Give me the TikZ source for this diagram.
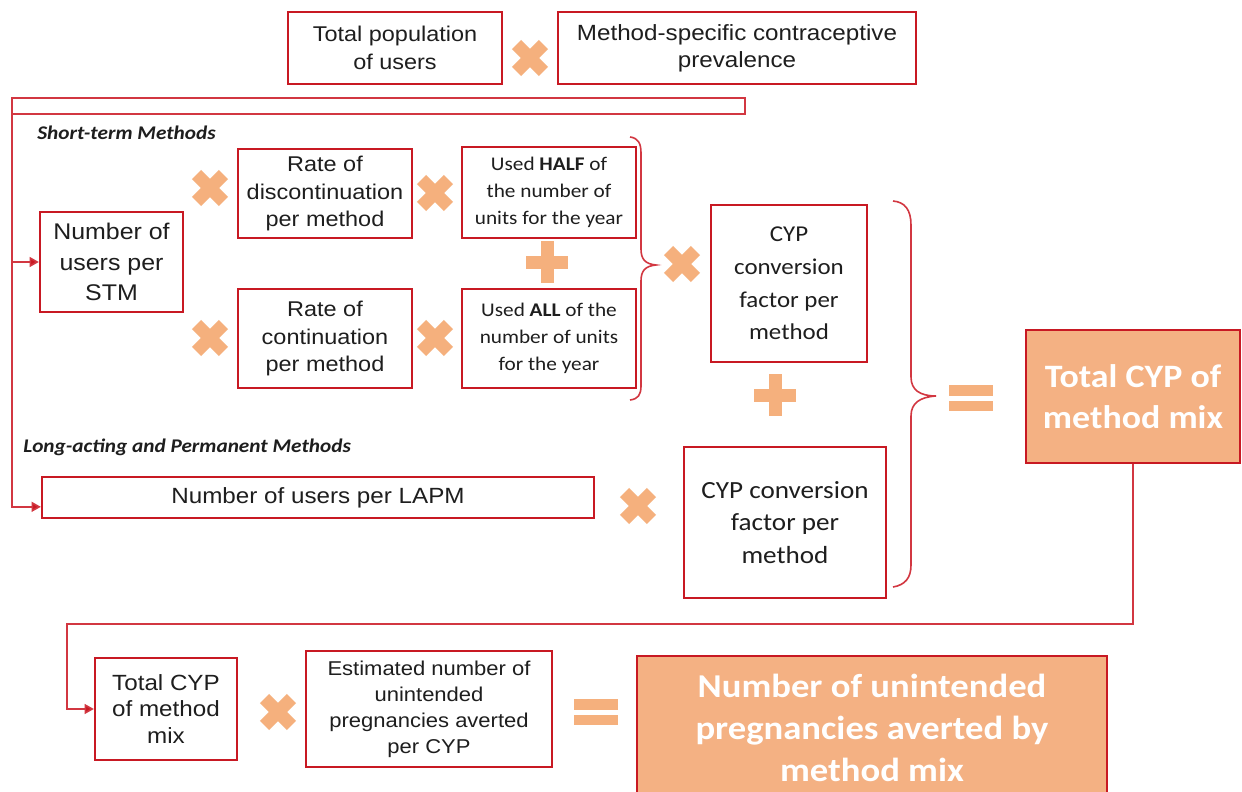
\documentclass[tikz,border=0pt]{standalone}
\usepackage{fontspec}
\setmainfont[FakeStretch=1.1]{Liberation Sans}
\newfontfamily\calfont[FakeStretch=1.1]{Carlito}
\usetikzlibrary{arrows.meta}
\definecolor{bred}{RGB}{200,25,35}
\definecolor{lred}{RGB}{210,55,65}
\definecolor{orng}{RGB}{244,177,131}
\definecolor{opc}{RGB}{245,176,125}
\definecolor{txt}{RGB}{30,30,30}
\begin{document}
\begin{tikzpicture}[x=0.75pt,y=-0.75pt,
  box/.style={draw=bred, line width=1.7pt, fill=white, inner sep=0pt, align=center, text=txt},
  hot/.style={draw=bred, line width=1.7pt, fill=orng, inner sep=0pt, align=center, text=white},
  sz/.style 2 args={minimum width=#1*0.75pt, minimum height=#2*0.75pt},
  ar/.style={font=\fontsize{16}{20.5}\selectfont},
  cb/.style={font=\calfont\fontsize{14.5}{20}\selectfont},
  cy/.style={font=\calfont\fontsize{17}{24.5}\selectfont},
  big/.style={font=\calfont\bfseries\fontsize{24.5}{30.5}\selectfont},
  lab/.style={anchor=west, text=txt, inner sep=0pt, font=\calfont\bfseries\itshape\fontsize{14.5}{16}\selectfont},
  conn/.style={draw=lred, line width=1.2pt},
  tip/.style={-{Triangle[length=7pt,width=7.5pt,fill=bred]}},
  brace/.style={draw=lred, line width=1.2pt},
  opx/.pic={\fill[opc,rotate=45] (-19,-6.5) rectangle (19,6.5);
            \fill[opc,rotate=-45] (-19,-6.5) rectangle (19,6.5);},
  opp/.pic={\fill[opc] (-21,-6.5) rectangle (21,6.5);
            \fill[opc] (-6.5,-21) rectangle (6.5,21);},
  ope/.pic={\fill[opc] (-22,-13) rectangle (22,-2.5);
            \fill[opc] (-22,2.5) rectangle (22,13);}
]
\useasboundingbox (0,0) rectangle (1242,792);
\clip (0,0) rectangle (1242,792);
\fill[white] (0,0) rectangle (1242,792);

% top row
\node[box, ar, sz={214}{72}] (pop) at (395,48) {Total population\\of users};
\node[box, ar, font=\fontsize{16.5}{20.5}\selectfont, sz={358}{72}] (prev) at (737,48) {Method-specific contraceptive\\prevalence};
\pic at (530,58) {opx};

% bar connector
\coordinate (barTL) at (12,98);
\coordinate (barBR) at (745,114);
\coordinate (barBL) at (12,114);
\draw[conn] (barTL) rectangle (barBR);

% labels
\node[lab] (stl) at (37,133) {Short-term Methods};
\node[lab] (lpl) at (23,447) {Long-acting and Permanent Methods};

% short-term boxes
\node[box, font=\fontsize{17}{23}\selectfont, sz={143}{100}] (stm) at (111.5,262) {Number of\\users per\\STM};
\node[box, ar, sz={174}{89}] (disc) at (325,193.5) {Rate of\\discontinuation\\per method};
\node[box, ar, sz={174}{99}] (cont) at (325,338.5) {Rate of\\continuation\\per method};
\node[box, cb, sz={174}{91}] (half) at (549,192.5) {Used \textbf{HALF} of\\the number of\\units for the year};
\node[box, cb, sz={174}{99}] (all) at (549,338.5) {Used \textbf{ALL} of the\\number of units\\for the year};
\node[box, cy, sz={156}{157}] (cyp1) at (789,283.5) {CYP\\conversion\\factor per\\method};

\pic at (210,188) {opx};
\pic at (210,338) {opx};
\pic at (435,193) {opx};
\pic at (435,338) {opx};
\pic at (547,262) {opp};
\pic at (682,264) {opx};
\pic at (775,395) {opp};

% brace 1
\draw[brace] (630,137) .. controls (638,138) and (641,143) .. (641,153)
  -- (641,249) .. controls (641,259) and (645,264) .. (656,265)
  .. controls (645,266) and (641,271) .. (641,281)
  -- (641,386) .. controls (641,395) and (638,399) .. (630,400);

% LAPM
\node[box, font=\fontsize{16.5}{20}\selectfont, sz={552}{41}] (lapm) at (318,497.5) {Number of users per LAPM};
\node[box, font=\calfont\fontsize{18.5}{24.5}\selectfont, sz={202}{151}] (cyp2) at (785,522.5) {CYP conversion\\factor per\\method};
\pic at (638,506) {opx};

% brace 2
\draw[brace] (893,201) .. controls (905,202) and (911,210) .. (911,225)
  -- (911,377) .. controls (911,390) and (920,396) .. (936,396)
  .. controls (920,397) and (911,403) .. (911,416)
  -- (911,565) .. controls (911,578) and (905,585) .. (893,587);

\pic at (971,398) {ope};

\node[hot, big, sz={214}{133}] (tcyp) at (1133,396.5) {Total CYP of\\method mix};

% left connector
\coordinate (j1) at (12,262);
\draw[conn, tip] (barBL) |- ([yshift=-7pt]lapm.west);
\draw[conn, tip] (j1) -- (stm.west);

% bottom row
\node[box, font=\fontsize{16.5}{20}\selectfont, sz={142}{102}] (tcyp2) at (166,709) {Total CYP\\of method\\mix};
\node[box, font=\fontsize{15}{19.5}\selectfont, sz={246}{116}] (est) at (429,709) {Estimated number of\\unintended\\pregnancies averted\\per CYP};
\pic at (278,712) {opx};
\pic at (596,712) {ope};
\node[hot, font=\calfont\bfseries\fontsize{25}{31.5}\selectfont, sz={470}{144}] (upa) at (872,728) {Number of unintended\\pregnancies averted by\\method mix};

\coordinate (bend) at (67,624);
\draw[conn, tip] (tcyp.south) |- (bend) |- (tcyp2.west);
\end{tikzpicture}
\end{document}
